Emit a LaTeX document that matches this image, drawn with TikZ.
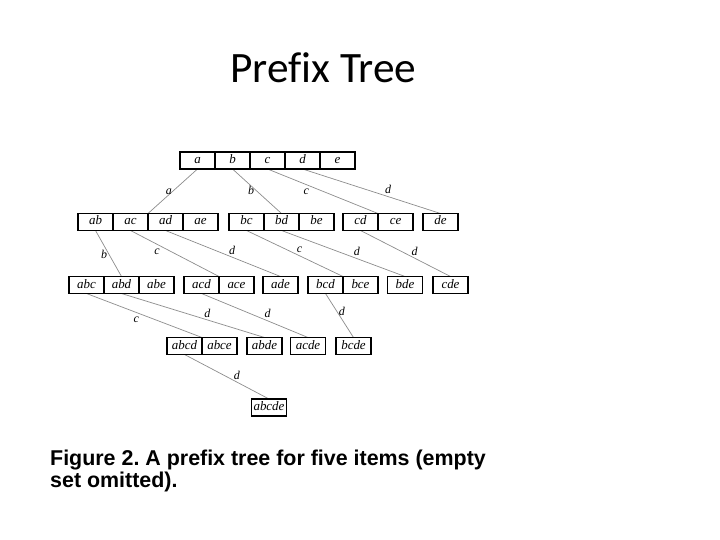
\documentclass[tikz,border=0pt]{standalone}
\usepackage{fontspec}
\setmainfont{Liberation Serif}
\newfontfamily\titlefont[Ligatures=NoCommon]{Carlito}
\newfontfamily\capfont{Liberation Sans}
\usetikzlibrary{positioning,fit,backgrounds}
\definecolor{edgegray}{HTML}{8C8C8C}
\frenchspacing

\begin{document}
\begin{tikzpicture}[x=1bp, y=-1bp,
  cell/.style={draw, line width=1.6bp, minimum width=35bp, minimum height=17bp, inner sep=0pt, outer sep=0pt, text height=8.5bp, text depth=2.5bp, font=\fontsize{13}{14}\selectfont\itshape},
  grp/.style={inner sep=0pt, outer sep=0pt},
  link/.style={draw=edgegray, line width=0.7bp},
  lbl/.style={font=\fontsize{12}{13}\selectfont\itshape, inner sep=1.5pt, text height=8bp, text depth=0pt}
]
\useasboundingbox (0,0) rectangle (720,540);

\node[font=\titlefont\fontsize{43.5}{50}\selectfont, anchor=base] (title) at (323.5,83) {Prefix Tree};

% level 1
\node[cell] (a) at (197.5,160.5) {a};
\node[cell, right=0pt of a] (b) {b};
\node[cell, right=0pt of b] (c) {c};
\node[cell, right=0pt of c] (d) {d};
\node[cell, right=0pt of d] (e) {e};

% level 2
\node[cell] (ab) at (95.5,222) {ab};
\node[cell, right=0pt of ab] (ac) {ac};
\node[cell, right=0pt of ac] (ad) {ad};
\node[cell, right=0pt of ad] (ae) {ae};
\node[cell] (bc) at (246.5,222) {bc};
\node[cell, right=0pt of bc] (bd) {bd};
\node[cell, right=0pt of bd] (be) {be};
\node[cell] (cd) at (360.5,222) {cd};
\node[cell, right=0pt of cd] (ce) {ce};
\node[cell] (de) at (440.5,222) {de};

% level 3
\node[cell] (abc) at (86.5,285) {abc};
\node[cell, right=0pt of abc] (abd) {abd};
\node[cell, right=0pt of abd] (abe) {abe};
\node[cell] (acd) at (201.5,285) {acd};
\node[cell, right=0pt of acd] (ace) {ace};
\node[cell] (ade) at (280.5,285) {ade};
\node[cell] (bcd) at (325.5,285) {bcd};
\node[cell, right=0pt of bcd] (bce) {bce};
\node[cell] (bde) at (405,285) {bde};
\node[cell] (cde) at (450.5,285) {cde};

% level 4
\node[cell] (abcd) at (184.5,346) {abcd};
\node[cell, right=0pt of abcd] (abce) {abce};
\node[cell] (abde) at (264.5,346) {abde};
\node[cell] (acde) at (308,346) {acde};
\node[cell] (bcde) at (353.5,346) {bcde};

% level 5
\node[cell] (abcde) at (269,407.5) {abcde};

% child groups
\node[grp, fit=(ab)(ae)] (grp-ab) {};
\node[grp, fit=(bc)(be)] (grp-bc) {};
\node[grp, fit=(cd)(ce)] (grp-cd) {};
\node[grp, fit=(abc)(abe)] (grp-abc) {};
\node[grp, fit=(acd)(ace)] (grp-acd) {};
\node[grp, fit=(bcd)(bce)] (grp-bcd) {};
\node[grp, fit=(abcd)(abce)] (grp-abcd) {};

\begin{scope}[on background layer]
\draw[link] (a.south) -- node[lbl, pos=.48, left] {a} (grp-ab.north);
\draw[link] (b.south) -- node[lbl, pos=.48, left] {b} (grp-bc.north);
\draw[link] (c.south) -- node[lbl, pos=.35, below] {c} (grp-cd.north);
\draw[link] (d.south) -- node[lbl, pos=.62, above=1pt] {d} (de.north);

\draw[link] (ab.south) -- node[lbl, pos=.52, left] {b} (grp-abc.north);
\draw[link] (ac.south) -- node[lbl, pos=.3, below] {c} (grp-acd.north);
\draw[link] (ad.south) -- node[lbl, pos=.58, above=1pt] {d} (ade.north);
\draw[link] (bc.south) -- node[lbl, pos=.55, above=1pt] {c} (grp-bcd.north);
\draw[link] (bd.south) -- node[lbl, pos=.61, above=1pt] {d} (bde.north);
\draw[link] (cd.south) -- node[lbl, pos=.6, above=1pt] {d} (cde.north);

\draw[link] (abc.south) -- node[lbl, pos=.43, below] {c} (grp-abcd.north);
\draw[link] (abd.south) -- node[lbl, pos=.6, above=1pt] {d} (abde.north);
\draw[link] (acd.south) -- node[lbl, pos=.62, above=1pt] {d} (acde.north);
\draw[link] (bcd.south) -- node[lbl, pos=.41, right] {d} (bcde.north);

\draw[link] (abcd.south) -- node[lbl, pos=.62, above=1pt] {d} (abcde.north);
\end{scope}

\node[anchor=north west, align=left, inner sep=0pt, font=\capfont\bfseries\fontsize{21.5}{22}\selectfont] (caption) at (50,449.7) {Figure 2. A prefix tree for five items (empty\\set omitted).};
\end{tikzpicture}
\end{document}
